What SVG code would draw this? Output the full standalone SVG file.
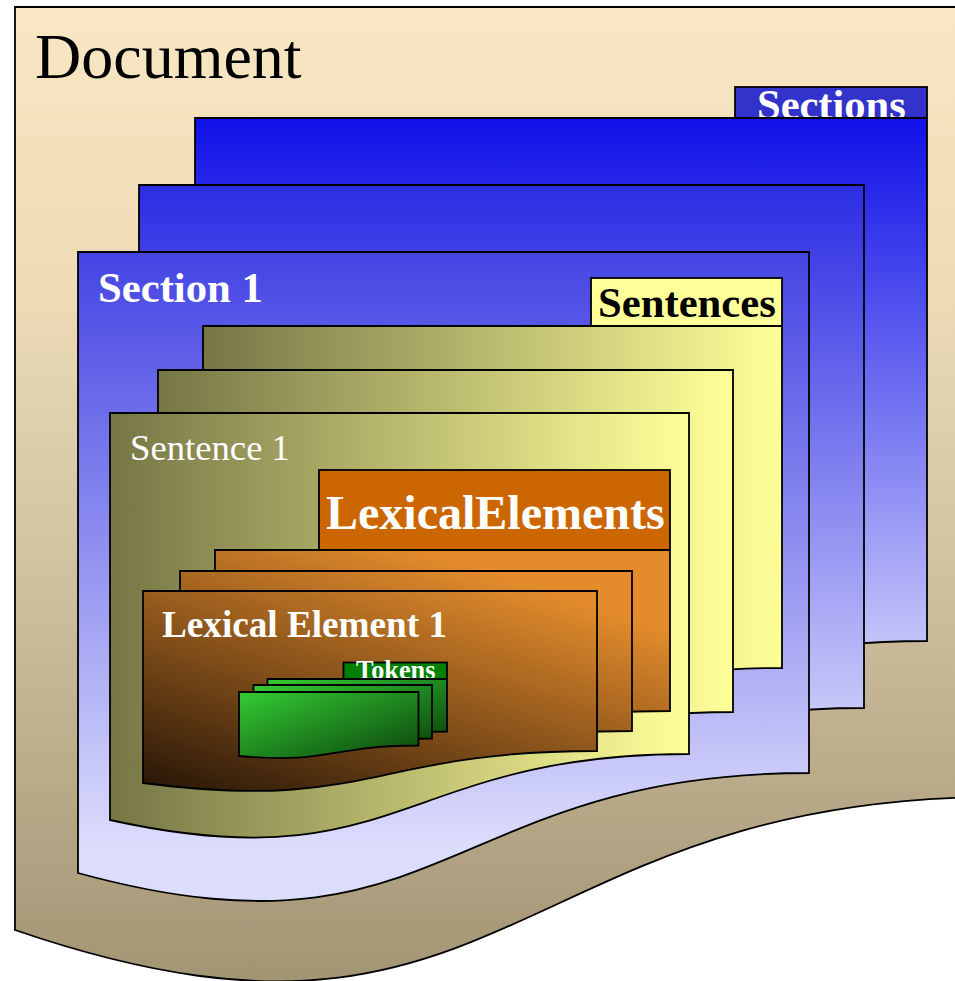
<svg xmlns="http://www.w3.org/2000/svg" width="955" height="981" viewBox="0 0 955 981">
<defs>
<style>
.sh{stroke:#000;stroke-width:1.8;stroke-linejoin:miter}
.t{font-family:"Liberation Serif","Times New Roman",serif}
.b{font-weight:bold}
.w{fill:#fff}
.k{fill:#000}
</style>
<linearGradient id="gDoc" gradientUnits="userSpaceOnUse" x1="0" y1="7" x2="0" y2="980">
<stop offset="0" stop-color="#f8e7c2"/>
<stop offset="0.3" stop-color="#eddbb6"/>
<stop offset="0.6" stop-color="#cfbf9f"/>
<stop offset="1" stop-color="#a29574"/>
</linearGradient>
<linearGradient id="gS3" gradientUnits="userSpaceOnUse" x1="0" y1="118" x2="0" y2="715">
<stop offset="0" stop-color="#1010e8"/>
<stop offset="1" stop-color="#dcdcfc"/>
</linearGradient>
<linearGradient id="gS2" gradientUnits="userSpaceOnUse" x1="0" y1="185" x2="0" y2="780">
<stop offset="0" stop-color="#2c2ce4"/>
<stop offset="1" stop-color="#dcdcfc"/>
</linearGradient>
<linearGradient id="gS1" gradientUnits="userSpaceOnUse" x1="0" y1="252" x2="0" y2="845">
<stop offset="0" stop-color="#4444e4"/>
<stop offset="1" stop-color="#dcdcfc"/>
</linearGradient>
<linearGradient id="gSn" x1="0" y1="0" x2="1" y2="0">
<stop offset="0" stop-color="#767646"/>
<stop offset="1" stop-color="#ffff99"/>
</linearGradient>
<linearGradient id="gL" gradientUnits="userSpaceOnUse" x1="143" y1="783" x2="236.5" y2="490.3">
<stop offset="0" stop-color="#2a1808"/>
<stop offset="1" stop-color="#e48c2c"/>
</linearGradient>
<linearGradient id="gT" x1="0" y1="0" x2="1" y2="1">
<stop offset="0" stop-color="#33cc33"/>
<stop offset="1" stop-color="#0c440c"/>
</linearGradient>
</defs>

<g id="document">
<path class="sh" fill="url(#gDoc)" d="M15,7 H1000 V797 C507.5,797 507.5,1099 15,930 Z"/>
<text class="t k" x="35" y="78" font-size="64">Document</text>
</g>

<g id="sections">
<rect class="sh" x="735" y="87" width="192" height="31" fill="#3333cc"/>
<text class="t b w" x="757" y="119" font-size="42.5">Sections</text>
<path class="sh" fill="url(#gS3)" d="M195,118 H927 V641 C561,641 561,841 195,741 Z"/>
<path class="sh" fill="url(#gS2)" d="M139,185 H864 V708 C501.5,708 501.5,908 139,808 Z"/>
</g>

<g id="section1">
<path class="sh" fill="url(#gS1)" d="M78,252 H809 V773 C443.5,773 443.5,973 78,873 Z"/>
<text class="t b w" x="98" y="302" font-size="42.7">Section 1</text>
</g>

<g id="sentences">
<rect class="sh" x="591" y="278" width="191" height="48" fill="#ffff99"/>
<text class="t b k" x="598" y="317" font-size="42.7">Sentences</text>
<path class="sh" fill="url(#gSn)" d="M203,326 H782 V668 C492.5,668 492.5,798 203,734 Z"/>
<path class="sh" fill="url(#gSn)" d="M158,370 H733 V712 C445.5,712 445.5,842 158,778 Z"/>
</g>

<g id="sentence1">
<path class="sh" fill="url(#gSn)" d="M110,413 H689 V754 C399.5,754 399.5,884 110,820 Z"/>
<text class="t w" x="130" y="460" font-size="36.7">Sentence 1</text>
</g>

<g id="lexicalelements">
<rect class="sh" x="319" y="470" width="351" height="80" fill="#cc6600"/>
<text class="t b w" x="326" y="529" font-size="48">LexicalElements</text>
<path class="sh" fill="url(#gL)" d="M215,550 H670 V711 C442.5,711 442.5,772.5 215,743 Z"/>
<path class="sh" fill="url(#gL)" d="M180,571 H632 V731 C406,731 406,792.5 180,763 Z"/>
</g>

<g id="lexicalelement1">
<path class="sh" fill="url(#gL)" d="M143,591 H597 V751 C370,751 370,812.5 143,783 Z"/>
<text class="t b w" x="162" y="637" font-size="37.2">Lexical Element 1</text>
</g>

<g id="tokens">
<rect class="sh" x="343.5" y="662.5" width="103.5" height="16.5" fill="#008000"/>
<text class="t b w" x="356" y="679" font-size="26.3">Tokens</text>
<path class="sh" fill="url(#gT)" d="M267.5,679 H447 V731.5 C357,731.5 357,750.5 267.5,742 Z"/>
<path class="sh" fill="url(#gT)" d="M253.5,685 H432 V738.5 C343,738.5 343,757.5 253.5,749 Z"/>
<path class="sh" fill="url(#gT)" d="M239,692 H418.5 V745.5 C329,745.5 329,764.5 239,756 Z"/>
</g>

<g id="connectors"></g>
</svg>
